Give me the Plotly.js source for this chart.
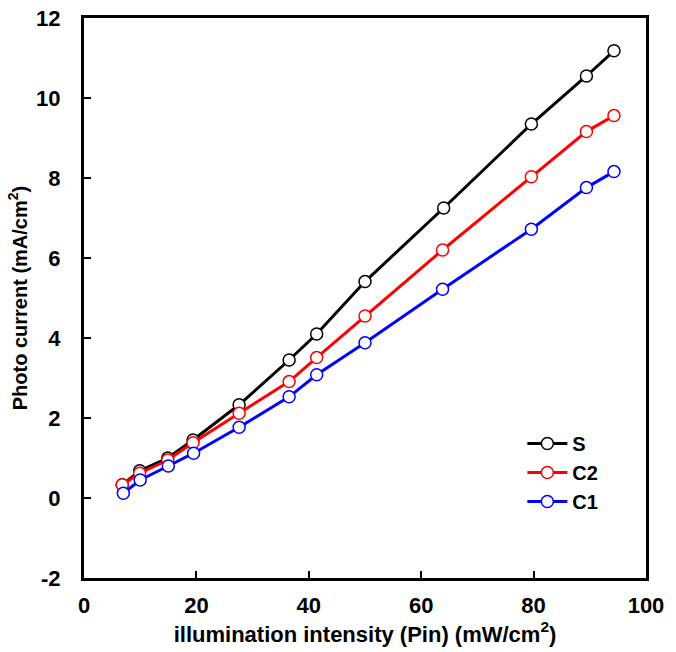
<!DOCTYPE html>
<html><head><meta charset="utf-8">
<script src="https://cdn.plot.ly/plotly-3.0.1.min.js"></script>
<style>body{margin:0;background:#fff}#c{width:676px;height:652px}</style>
</head><body><div id="c"></div>
<script>
const xS  = [6.8, 9.9, 14.9, 19.4, 27.6, 36.5, 41.4, 50.0, 64.0, 79.6, 89.4, 94.3];
const yS  = [0.33, 0.68, 1.00, 1.45, 2.33, 3.45, 4.10, 5.41, 7.25, 9.35, 10.55, 11.18];
const xC2 = [6.8, 9.9, 14.9, 19.4, 27.6, 36.5, 41.4, 50.0, 63.8, 79.6, 89.4, 94.3];
const yC2 = [0.33, 0.62, 0.95, 1.38, 2.12, 2.91, 3.51, 4.55, 6.20, 8.03, 9.16, 9.56];
const xC1 = [7.0, 10.0, 15.0, 19.5, 27.6, 36.5, 41.4, 50.0, 63.8, 79.6, 89.4, 94.3];
const yC1 = [0.12, 0.45, 0.80, 1.12, 1.77, 2.53, 3.08, 3.88, 5.22, 6.72, 7.76, 8.16];
const names = ['S', 'C2', 'C1'];
const colors = ['#000000', '#ff0000', '#0000ff'];
const yTickVals = [-2, 0, 2, 4, 6, 8, 10, 12];
const yTickLabels = ['-2', '0', '2', '4', '6', '8', '10', '12'];
const xs = [xS, xC2, xC1], ys = [yS, yC2, yC1];

const traces = names.map((n, i) => ({
  x: xs[i], y: ys[i], name: n, type: 'scatter', mode: 'lines+markers',
  line: {color: colors[i], width: 3},
  marker: {symbol: 'circle', size: 12, color: '#ffffff', line: {color: colors[i], width: 1.5}}
}));

const sans = 'Liberation Sans, Arial, sans-serif';
const layout = {
  width: 676, height: 652,
  margin: {l: 84, r: 30, t: 18, b: 74},
  paper_bgcolor: '#fff', plot_bgcolor: '#fff',
  showlegend: true,
  legend: {x: 0.78, y: 0.275, xanchor: 'left', yanchor: 'top', bgcolor: 'rgba(0,0,0,0)',
    font: {family: sans, size: 20, color: '#000', weight: 'bold'}, tracegroupgap: 0, itemwidth: 40},
  xaxis: {range: [0, 100], dtick: 20, showgrid: false, zeroline: false,
    showline: true, linecolor: '#000', linewidth: 3, mirror: true,
    ticks: 'inside', ticklen: 7, tickwidth: 2, tickcolor: '#000', ticklabelstandoff: 6,
    tickfont: {family: sans, size: 22, color: '#000', weight: 'bold'},
    title: {text: 'illumination intensity (Pin) (mW/cm<sup>2</sup>)', standoff: 6,
      font: {family: sans, size: 22, color: '#000', weight: 'bold'}}},
  yaxis: {range: [-2, 12], tickmode: 'array', tickvals: yTickVals, ticktext: yTickLabels,
    showgrid: false, zeroline: false,
    showline: true, linecolor: '#000', linewidth: 3, mirror: true,
    ticks: 'inside', ticklen: 7, tickwidth: 2, tickcolor: '#000', ticklabelstandoff: 16,
    tickfont: {family: sans, size: 22, color: '#000', weight: 'bold'},
    title: {text: 'Photo current (mA/cm<sup>2</sup>)', standoff: 4,
      font: {family: sans, size: 20, color: '#000', weight: 'bold'}}}
};
Plotly.newPlot('c', traces, layout, {displayModeBar: false, staticPlot: true});
</script></body></html>
